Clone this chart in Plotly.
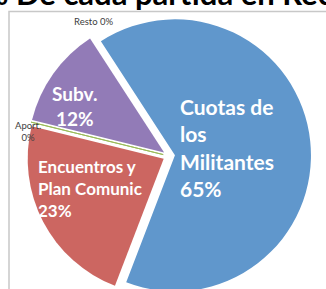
import plotly.graph_objects as go

W, H = 326, 298  # figure slightly taller than the 289px window: the pie is cropped at the bottom like the reference

# ---- data ----
categories = ["Cuotas de los Militantes", "Encuentros y Plan Comunic", "Aport.", "Subv.", "Resto"]
values = [65, 23, 0, 12, 0]
pct_labels = ["65%", "23%", "0%", "12%", "0%"]
label_lines = [["Cuotas de", "los", "Militantes"], ["Encuentros y", "Plan Comunic"], ["Aport."], ["Subv."], ["Resto"]]
colors = ["#6097cc", "#cc6661", "#9bbb59", "#927bb7", "#4bacc6"]
title_text = "% De cada partida en Recaudación"


def px(x):
    return x / W


def py(y):
    return 1 - y / H


fig = go.Figure()

pull = 0.044
cx, cy, d = 169, 156, 284  # pie center and box size in px
fig.add_trace(go.Pie(
    labels=categories,
    values=values,
    sort=False,
    direction="clockwise",
    rotation=-33,
    pull=[pull] * len(values),
    marker=dict(colors=colors, line=dict(color=["#ffffff", "#ffffff", "#9bbb59", "#ffffff", "#ffffff"],
                                         width=[0, 0, 1, 0, 0])),
    textinfo="none",
    hoverinfo="label+percent",
    showlegend=False,
    domain=dict(x=[px(cx - d / 2), px(cx + d / 2)], y=[max(0, py(cy + d / 2)), py(cy - d / 2)]),
))

anns = []
# big white labels
big = [
    (0, 178, 147, "left", 21),
    (1, 36, 188, "left", 17),
    (3, 74, 106, "center", 19),
]
for i, x, y, al, fs in big:
    txt = "<br>".join(label_lines[i] + [pct_labels[i]])
    anns.append(dict(text=txt, x=px(x), y=py(y), xref="paper", yref="paper",
                     xanchor=al, yanchor="middle", align=al,
                     showarrow=False, font=dict(family="Lato", size=fs, color="white", weight="bold")))

# small outside labels for zero slices
anns.append(dict(text=label_lines[4][0] + " " + pct_labels[4], x=px(93), y=py(21.5), xref="paper", yref="paper",
                 xanchor="center", yanchor="middle", showarrow=False,
                 font=dict(family="Lato", size=9.5, color="#404040")))
anns.append(dict(text=label_lines[2][0] + "<br>" + pct_labels[2], x=px(28), y=py(131), xref="paper", yref="paper",
                 xanchor="center", yanchor="middle", align="center", showarrow=False,
                 font=dict(family="Lato", size=9.5, color="#404040")))

# title (cropped at top)
anns.append(dict(text=title_text, x=px(-19), y=py(-7.5), xref="paper", yref="paper",
                 xanchor="left", yanchor="middle", showarrow=False,
                 font=dict(family="Lato", size=31, color="black", weight="bold")))

fig.update_layout(
    width=W, height=H,
    margin=dict(l=0, r=0, t=0, b=0),
    paper_bgcolor="white",
    plot_bgcolor="white",
    annotations=anns,
    shapes=[dict(type="rect", xref="paper", yref="paper",
                 x0=px(9), x1=px(345), y0=py(11.5), y1=py(320),
                 line=dict(color="#c8c8c8", width=1.5), layer="below")],
)

fig.write_html("out.html", config={"displayModeBar": False},
               post_script="document.body.style.margin='0px'; document.body.style.overflow='hidden';")
